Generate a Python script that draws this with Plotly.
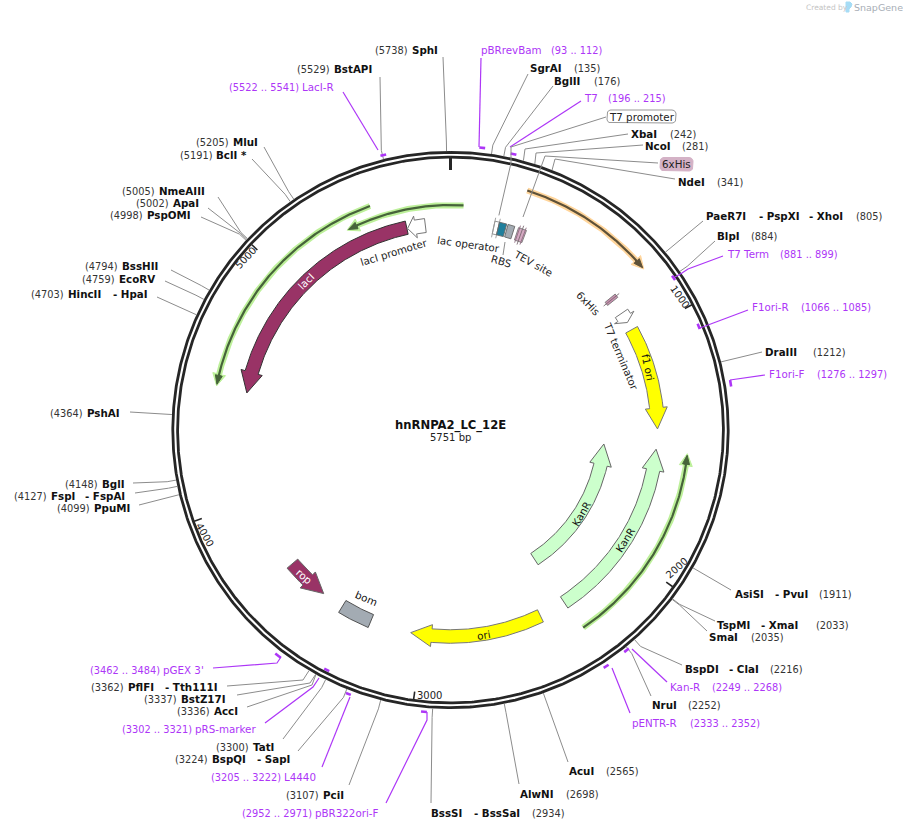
import math
import plotly.graph_objects as go

TOTAL_BP = 5751
TITLE = "hnRNPA2_LC_12E"
SUBTITLE = "5751 bp"
TICK_BP = [1000, 2000, 3000, 4000, 5000]

SITE_NAMES = ["SphI", "BstAPI", "MluI", "BclI *", "NmeAIII", "ApaI", "PspOMI", "BssHII", "EcoRV",
              "HincII|- HpaI", "PshAI", "BglI", "FspI|- FspAI", "PpuMI", "PflFI|- Tth111I", "BstZ17I",
              "AccI", "TatI", "BspQI|- SapI", "PciI", "BssSI|- BssSaI", "AlwNI", "AcuI", "NruI",
              "BspDI|- ClaI", "SmaI", "TspMI|- XmaI", "AsiSI|- PvuI", "DraIII", "BlpI",
              "PaeR7I|- PspXI|- XhoI", "NdeI", "NcoI", "XbaI", "BglII", "SgrAI"]
SITE_BP = [5738, 5529, 5205, 5191, 5005, 5002, 4998, 4794, 4759, 4703, 4364, 4148, 4127, 4099, 3362, 3337,
           3336, 3300, 3224, 3107, 2934, 2698, 2565, 2252, 2216, 2035, 2033, 1911, 1212, 884, 805, 341, 281,
           242, 176, 135]

PRIMER_NAMES = ["pBRrevBam", "T7", "T7 Term", "F1ori-R", "F1ori-F", "Kan-R", "pENTR-R", "pBR322ori-F",
                "L4440", "pRS-marker", "pGEX 3'", "LacI-R"]
PRIMER_START = [93, 196, 881, 1066, 1276, 2249, 2333, 2952, 3205, 3302, 3462, 5522]
PRIMER_END = [112, 215, 899, 1085, 1297, 2268, 2352, 2971, 3222, 3321, 3484, 5541]

ARROW_NAMES = ["lacI", "lacI promoter", "f1 ori", "T7 terminator", "KanR", "KanR ", "ori", "rop"]
ARROW_TAIL = [5556, 5639, 975, 890, 2342, 2348, 2463, 3671]
ARROW_TIP = [4478, 5559, 1433, 938, 1523, 1521, 3053, 3479]

BOX_NAMES = ["T7 promoter", "lac operator", "RBS", "TEV site", "bom", "6xHis"]
BOX_START = [192, 212, 250, 297, 3237, 806]
BOX_END = [212, 244, 280, 333, 3379, 824]

LINE_NAMES = ["ORF", "lac", "upper", "lower"]
LINE_TAIL = [284, 53, 5435, 2334]
LINE_TIP = [796, 5320, 4490, 1535]

# ---------- styling and placement only (pixels) ----------
CX, CY = 450.5, 430.0
PURPLE = "#ad36f7"
MAROON = "#993366"
GREY = "#8c8c8c"

ARROW_STYLE = {
    "lacI": (207, 6.75, 11, 21, MAROON, "#333333"),
    "lacI promoter": (206, 7, 11, 8, "#ffffff", "#777777"),
    "f1 ori": (207, 6.75, 11, 21, "#ffff00", "#777777"),
    "T7 terminator": (207, 7.5, 11.5, 6, "#ffffff", "#777777"),
    "KanR": (206.5, 6.75, 11, 21, "#ccffcc", "#666666"),
    "KanR ": (154, 6.75, 11, 21, "#ccffcc", "#666666"),
    "ori": (206.5, 6.75, 11, 21, "#ffff00", "#777777"),
    "rop": (207, 7, 11, 21, MAROON, "#666666"),
}
BOX_STYLE = {
    "T7 promoter": (207, 6.5, "#ffffff", "#888888"),
    "lac operator": (207, 6.5, "#1f7f9c", "#666666"),
    "RBS": (207, 6.5, "#a3abb3", "#666666"),
    "TEV site": (207, 6.5, "#d4a9c2", "#777777"),
    "bom": (207, 7, "#a3abb3", "#444444"),
    "6xHis": (207, 6.5, "#c990b0", "#777777"),
}
LINE_STYLE = {
    "ORF": (251.5, "#ffd59b", "#5e5138"),
    "lac": (225, "#bdf09a", "#46633a"),
    "upper": (238, "#bdf09a", "#46633a"),
    "lower": (238, "#bdf09a", "#46633a"),
}
# name: (label y, number x, [x of each name part], leader end, optional elbow)
SITE_POS = {
    "SphI": (50, 375, [412], (443, 57), None),
    "BstAPI": (69, 297, [334], (380, 77), None),
    "MluI": (142, 196, [233], (264, 147), None),
    "BclI *": (155, 180, [216], (252, 159), None),
    "NmeAIII": (191, 122, [159], (218, 197), None),
    "ApaI": (203, 136, [173], (208, 208), None),
    "PspOMI": (215, 110, [147], (201, 217), None),
    "BssHII": (266, 85, [122], (171, 270), None),
    "EcoRV": (279, 82, [119], (165, 281), None),
    "HincII|- HpaI": (294, 31, [68, 113], (157, 297), None),
    "PshAI": (413, 50, [87], (130, 412), None),
    "BglI": (484, 65, [102], (133, 483), None),
    "FspI|- FspAI": (496, 14, [51, 85], (135, 493), None),
    "PpuMI": (508, 57, [94], (139, 505), None),
    "PflFI|- Tth111I": (687, 91, [128, 165], (227, 686), (303, 680)),
    "BstZ17I": (699, 144, [181], (237, 695), (310, 683)),
    "AccI": (711, 177, [214], (247, 707), (312, 685)),
    "TatI": (747, 216, [253], (283, 739), None),
    "BspQI|- SapI": (759, 175, [212, 257], (298, 751), None),
    "PciI": (795, 286, [323], (349, 785), None),
    "BssSI|- BssSaI": (813, 532, [431, 474], (431, 803), None),
    "AlwNI": (794, 566, [520], (519, 784), None),
    "AcuI": (771, 606, [569], (568, 762), None),
    "NruI": (705, 688, [652], (651, 696), None),
    "BspDI|- ClaI": (669, 770, [685, 729], (682, 665), None),
    "SmaI": (637, 751, [709], (707, 631), None),
    "TspMI|- XmaI": (625, 816, [717, 761], (715, 621), None),
    "AsiSI|- PvuI": (594, 819, [735, 775], (731, 590), None),
    "DraIII": (352, 813, [765], (762, 352), None),
    "BlpI": (236, 751, [717], (715, 241), None),
    "PaeR7I|- PspXI|- XhoI": (216, 856, [706, 759, 809], (703, 221), None),
    "NdeI": (182, 717, [678], (675, 179), (555, 159)),
    "NcoI": (146, 682, [645], (643, 145), (536, 153)),
    "XbaI": (134, 670, [631], (628, 134), (525, 149)),
    "BglII": (81, 594, [554], (553, 86), None),
    "SgrAI": (68, 574, [530], (528, 74), None),
}
# name: (label y, name x, range x, mark radius, leader points from label to mark)
PRIMER_POS = {
    "pBRrevBam": (50, 481, 551, 284, [(481, 58), (479, 147)]),
    "T7": (98, 584, 608, 283, [(581, 101), (510, 147)]),
    "T7 Term": (254, 727, 780, 270, [(723, 256), (688, 269), (682, 273), (675, 277)]),
    "F1ori-R": (307, 752, 801, 269, [(748, 310), (707, 325), (700, 328)]),
    "F1ori-F": (374, 769, 817, 284, [(765, 375), (730, 380)]),
    "Kan-R": (687, 670, 712, 282, [(667, 682), (632, 649)]),
    "pENTR-R": (723, 632, 690, 283, [(630, 713), (612, 668)]),
    "pBR322ori-F": (813, 315, 242, 283, [(386, 803), (427, 720), (427, 712)]),
    "L4440": (777, 284, 211, 283, [(322, 767), (350, 697)]),
    "pRS-marker": (729, 195, 122, 270, [(265, 723), (313, 687), (319, 678)]),
    "pGEX 3'": (670, 163, 90, 284, [(213, 668), (277, 663), (281, 657)]),
    "LacI-R": (87, 302, 229, 283, [(343, 92), (378, 150)]),
}
TICK_LABEL_POS = {1000: (680, 296, 55), 2000: (676, 568, -42), 3000: (429.5, 695, 0),
                  4000: (205, 534, 60), 5000: (245, 258, -47)}
ARC_LABELS = [
    ("lacI", 306, 281, -45, "#ffffff"), ("lacI promoter", 394, 252, -17, "#222222"),
    ("lac operator", 468, 244, 8, "#222222"), ("RBS", 501, 261, 16, "#222222"),
    ("TEV site", 533, 263, 29, "#222222"), ("6xHis", 588, 303, 46, "#222222"),
    ("T7 terminator", 621, 356, 67, "#222222"), ("f1 ori", 648, 367, 78, "#111111"),
    ("KanR", 581, 514, -60, "#111111"), ("KanR", 625, 540, -58, "#111111"),
    ("ori", 483, 635, -10, "#111111"), ("bom", 366, 598, 23, "#111111"), ("rop", 304, 576, 41, "#ffffff"),
]

FONT = "DejaVu Sans"
fig = go.Figure()
ann = []


def polar(bp, r):
    t = 2 * math.pi * bp / TOTAL_BP
    return CX + r * math.sin(t), CY - r * math.cos(t)


def arc(b0, b1, r, n=None):
    n = n or max(2, int(abs(b1 - b0) / 6) + 2)
    pts = [polar(b0 + (b1 - b0) * i / (n - 1), r) for i in range(n)]
    return [p[0] for p in pts], [p[1] for p in pts]


def wrap(tail, tip):
    return tail + (tip - tail + TOTAL_BP / 2) % TOTAL_BP - TOTAL_BP / 2


def add_line(xs, ys, color, width, dash=None):
    fig.add_trace(go.Scatter(x=xs, y=ys, mode="lines", hoverinfo="skip", showlegend=False,
                             line=dict(color=color, width=width, dash=dash)))


def add_poly(xs, ys, fill, stroke, width=1):
    fig.add_trace(go.Scatter(x=list(xs) + [xs[0]], y=list(ys) + [ys[0]], mode="lines", fill="toself",
                             fillcolor=fill, hoverinfo="skip", showlegend=False,
                             line=dict(color=stroke, width=width)))


def label(text, x, y, size=11, color="#111111", bold=False, anchor="left", angle=0):
    ann.append(dict(x=x, y=y, xref="x", yref="y", text=f"<b>{text}</b>" if bold else text, showarrow=False,
                    xanchor=anchor, yanchor="middle", textangle=angle, borderpad=0, borderwidth=0,
                    font=dict(family=FONT, size=size, color=color)))


def arrow_outline(tail, tip, r, half, head_half, head_px):
    tip = wrap(tail, tip)
    sign = 1 if tip > tail else -1
    head_bp = head_px / (2 * math.pi * r) * TOTAL_BP
    neck = tip - sign * head_bp
    xo, yo = arc(tail, neck, r + half)
    xi, yi = arc(neck, tail, r - half)
    b1, b2 = polar(neck, r + head_half), polar(neck, r - head_half)
    t = polar(tip, r)
    return xo + [b1[0], t[0], b2[0]] + xi, yo + [b1[1], t[1], b2[1]] + yi


# ring
for r in (277.7, 272.9):
    xs, ys = arc(0, TOTAL_BP, r, 721)
    add_line(xs, ys, "#262626", 2.8)

# ticks
x0, y0 = polar(0, 272)
x1, y1 = polar(0, 260)
add_line([x0, x1], [y0, y1], "#262626", 3)
for b in TICK_BP:
    a, c = polar(b, 272), polar(b, 264)
    add_line([a[0], c[0]], [a[1], c[1]], "#262626", 1.6)
    lx, ly, ang = TICK_LABEL_POS[b]
    label(str(b), lx, ly, 10, "#222222", anchor="center", angle=ang)

# thin feature arrows with a glow
for n, tail, tip in zip(LINE_NAMES, LINE_TAIL, LINE_TIP):
    r, glow, dark = LINE_STYLE[n]
    tip2 = wrap(tail, tip)
    sign = 1 if tip2 > tail else -1
    hb = 9 / (2 * math.pi * r) * TOTAL_BP
    neck = tip2 - sign * hb
    xs, ys = arc(tail, neck, r)
    add_line(xs, ys, glow, 6)
    hx, hy = arrow_outline(neck - sign * 3, tip2 + sign * 6, r, 0.1, 6.5, 12)
    add_poly(hx, hy, glow, glow)
    xs, ys = arc(tail, neck, r)
    add_line(xs, ys, dark, 2.2)
    hx, hy = arrow_outline(neck - sign * 2, tip2, r, 0.1, 3.5, 9)
    add_poly(hx, hy, dark, dark)

# block arrows
for n, tail, tip in zip(ARROW_NAMES, ARROW_TAIL, ARROW_TIP):
    r, half, head_half, head_px, fill, stroke = ARROW_STYLE[n]
    xs, ys = arrow_outline(tail, tip, r, half, head_half, head_px)
    add_poly(xs, ys, fill, stroke)

# small boxes
for n, b0, b1 in zip(BOX_NAMES, BOX_START, BOX_END):
    r, half, fill, stroke = BOX_STYLE[n]
    xo, yo = arc(b0, b1, r + half)
    xi, yi = arc(b1, b0, r - half)
    add_poly(xo + xi, yo + yi, fill, stroke, 0.9)
    if n in ("T7 promoter", "TEV site", "6xHis"):
        for b in ((b0, b1) if n == "T7 promoter" else ((b0 + b1) / 2,)):
            a, c = polar(b, r - 10), polar(b, r + 10)
            add_line([a[0], c[0]], [a[1], c[1]], "#7a6a72" if n != "T7 promoter" else "#999999", 0.9)
    if n == "TEV site":
        for b in (b0 + 5, b1 - 5):
            a, c = polar(b, r - 9), polar(b, r + 9)
            add_line([a[0], c[0]], [a[1], c[1]], "#8f6b80", 0.9)

# restriction site leaders and labels
for name, bp in zip(SITE_NAMES, SITE_BP):
    y, num_x, xs_name, end, elbow = SITE_POS[name]
    a = polar(bp, 279)
    b = elbow if elbow else polar(bp, 288)
    add_line([a[0], b[0], end[0]], [a[1], b[1], end[1]], GREY, 1)
    for part, x in zip(name.split("|"), xs_name):
        label(part, x, y, 10.3, "#111111", bold=True)
    label(f"({bp})", num_x, y, 9.8, "#333333")

# primers
for name, s, e in zip(PRIMER_NAMES, PRIMER_START, PRIMER_END):
    y, nx, rx, mr, pts = PRIMER_POS[name]
    xs, ys = arc(s, e, mr, 8)
    add_line(xs, ys, PURPLE, 2.6)
    add_line([p[0] for p in pts], [p[1] for p in pts], PURPLE, 1.2)
    label(name, nx, y, 10.3, PURPLE)
    label(f"({s} .. {e})", rx, y, 9.8, PURPLE)


# boxed feature labels with their leaders
def rounded(x0, y0, x1, y1, rad=4):
    xs, ys = [], []
    for cx, cy, a0 in ((x1 - rad, y0 + rad, -90), (x1 - rad, y1 - rad, 0), (x0 + rad, y1 - rad, 90), (x0 + rad, y0 + rad, 180)):
        for k in range(7):
            t = math.radians(a0 + 15 * k)
            xs.append(cx + rad * math.cos(t))
            ys.append(cy + rad * math.sin(t))
    return xs, ys


hl = polar(203, 207 + 13)
add_line([606, 511, 511, hl[0]], [117, 147, 163, hl[1]], GREY, 1)
add_line([658, 545, 523], [163, 156, 217], GREY, 1)
add_line([505, 503], [242, 255], GREY, 1)
bx, by = rounded(607, 110, 676, 123)
add_poly(bx, by, "#ffffff", "#999999")
label("T7 promoter", 641.5, 116.5, 10.3, "#222222", anchor="center")
bx, by = rounded(660, 157.5, 693, 171)
add_poly(bx, by, "#d4b2c6", "#d4b2c6")
label("6xHis", 676.5, 164, 10.3, "#222222", anchor="center")

for text, x, y, ang, col in ARC_LABELS:
    label(text, x, y, 10.3, col, anchor="center", angle=ang)

label(TITLE, 450, 425, 11.6, "#111111", bold=True, anchor="center")
label(SUBTITLE, 450, 437, 10, "#222222", anchor="center")

# watermark
label("Created by", 806, 7, 7.5, "#c4c4c4")
add_poly([846, 850, 852, 851, 849, 849, 846], [2, 2, 4, 7, 9, 12, 12], "#a6dcf5", "#a6dcf5")
label("SnapGene", 854, 7, 9.5, "#a8aeb6")

fig.update_layout(
    width=903, height=830, margin=dict(l=0, r=0, t=0, b=0), paper_bgcolor="#ffffff", plot_bgcolor="#ffffff",
    showlegend=False, hovermode=False, annotations=ann,
    xaxis=dict(range=[0, 903], visible=False, fixedrange=True),
    yaxis=dict(range=[830, 0], visible=False, fixedrange=True),
)
fig.write_html("out.html", config={"displayModeBar": False}, post_script="document.body.style.margin='0';")
